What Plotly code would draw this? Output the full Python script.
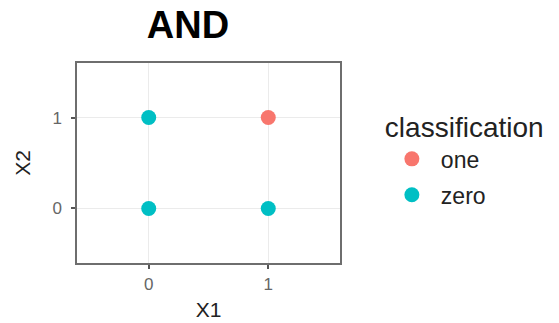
import plotly.graph_objects as go

# Data
x1_one = [1]
x2_one = [1]
x1_zero = [0, 0, 1]
x2_zero = [0, 1, 0]
classes = ["one", "zero"]
tick_vals = [0, 1]
tick_text = ["0", "1"]

W, H = 559, 323
L, R, T, B = 77, 340, 63, 263

fig = go.Figure()
fig.add_trace(go.Scatter(x=x1_one, y=x2_one, mode="markers", name=classes[0],
                         legendgroup="a",
                         marker=dict(color="#F8766D", size=15)))
fig.add_trace(go.Scatter(x=x1_zero, y=x2_zero, mode="markers", name=classes[1],
                         legendgroup="b",
                         marker=dict(color="#00BFC4", size=15)))

font_family = "Liberation Sans, Arial, sans-serif"
axis_common = dict(
    range=[-0.6, 1.6],
    tickvals=tick_vals,
    ticktext=tick_text,
    showgrid=True,
    gridcolor="#EBEBEB",
    gridwidth=1.2,
    zeroline=False,
    showline=True,
    linecolor="#6E6E6E",
    linewidth=1.5,
    mirror=True,
    ticks="outside",
    ticklen=4,
    tickwidth=1.5,
    tickcolor="#555555",
    tickfont=dict(family=font_family, size=17, color="#666666"),
    fixedrange=True,
    automargin=False,
)

fig.update_layout(
    width=W, height=H,
    margin=dict(l=L, r=W - R, t=T, b=H - B, pad=0, autoexpand=False),
    paper_bgcolor="white",
    plot_bgcolor="white",
    title=dict(text="<b>AND</b>", x=188 / W, xanchor="center",
               y=1 - 25 / H, yanchor="middle",
               font=dict(family=font_family, size=38, color="black")),
    xaxis=dict(**axis_common, ticklabelstandoff=1,
               title=dict(text="X1", standoff=9,
                          font=dict(family=font_family, size=21, color="#222222"))),
    yaxis=dict(**axis_common, ticklabelstandoff=6,
               title=dict(text="X2", standoff=16,
                          font=dict(family=font_family, size=21, color="#222222"))),
    legend=dict(
        title=dict(text="classification", font=dict(family=font_family, size=28, color="#222222")),
        font=dict(family=font_family, size=23, color="#222222"),
        x=1.163, xanchor="left", y=0.81, yanchor="top",
        bgcolor="rgba(0,0,0,0)",
        itemsizing="trace",
        itemwidth=48,
        tracegroupgap=3,
    ),
    showlegend=True,
)

fig.write_html("out.html", config={"displayModeBar": False},
               post_script="document.body.style.margin='0';")
